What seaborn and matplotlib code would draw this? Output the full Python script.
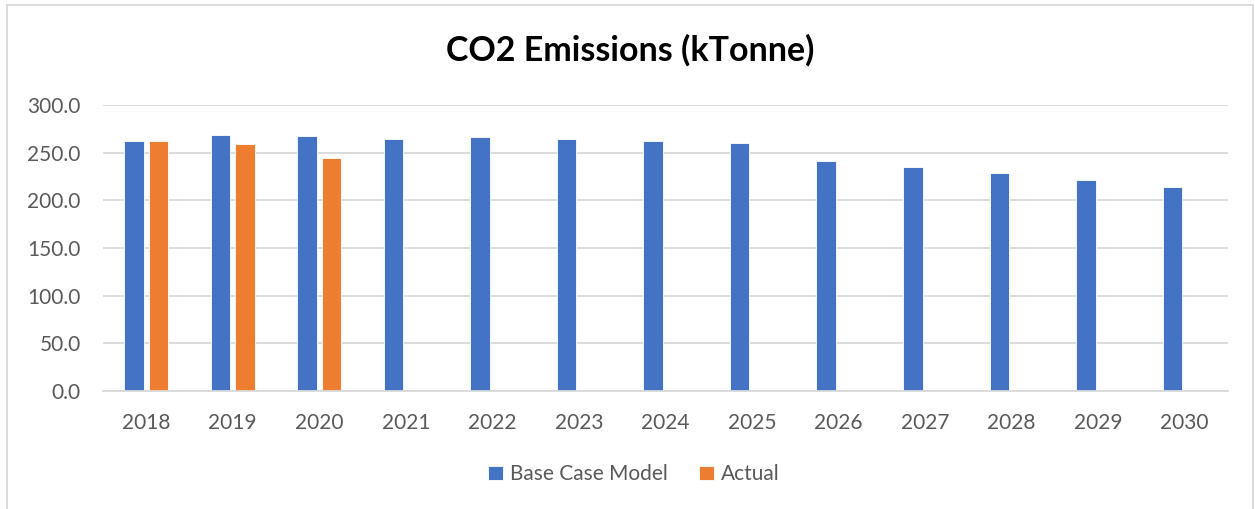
import pandas as pd
import numpy as np
from matplotlib import pyplot as plt
from matplotlib.lines import Line2D
import seaborn as sns

# Chart data
years = ["2018", "2019", "2020", "2021", "2022", "2023", "2024",
         "2025", "2026", "2027", "2028", "2029", "2030"]
base_case = [262.3, 268.2, 266.9, 264.4, 266.1, 263.7, 262.3,
             259.5, 240.7, 234.7, 228.1, 220.8, 214.1]
actual = [262.3, 258.8, 243.8]
series_names = ["Base Case Model", "Actual"]
yticks = [0, 50, 100, 150, 200, 250, 300]

# Long-format frame for seaborn
actual_full = actual + [np.nan] * (len(years) - len(actual))
df = pd.DataFrame({
    "year": years * 2,
    "series": [series_names[0]] * len(years) + [series_names[1]] * len(years),
    "value": base_case + actual_full,
})

sns.set_style("white")
plt.rcParams["font.family"] = ["Lato", "DejaVu Sans"]

fig = plt.figure(figsize=(12.55, 5.09), dpi=100)
ax = fig.add_axes([0.082, 0.232, 0.8965, 0.562])

sns.barplot(data=df, x="year", y="value", hue="series", hue_order=series_names,
            palette=["#4472C4", "#ED7D31"], saturation=1, width=0.57, gap=0.21,
            edgecolor="white", linewidth=0.6, ax=ax, legend=True)

ax.set_ylim(0, 300)
ax.set_yticks(yticks)
ax.set_yticklabels([f"{v:.1f}" for v in yticks])
ax.set_xlim(-0.5, len(years) - 0.5)
ax.set_xlabel("")
ax.set_ylabel("")
ax.yaxis.grid(True, color="#d9d9d9", linewidth=1.3)
ax.set_axisbelow(True)
for side in ["top", "right", "left"]:
    ax.spines[side].set_visible(False)
ax.spines["bottom"].set_color("#d9d9d9")
ax.spines["bottom"].set_linewidth(1.3)
ax.tick_params(axis="both", length=0, labelsize=15, labelcolor="#595959")
ax.tick_params(axis="x", pad=16)
ax.tick_params(axis="y", pad=16)

handles, labels = ax.get_legend_handles_labels()
ax.legend(handles, labels, loc="center", bbox_to_anchor=(0.505, 0.068),
          bbox_transform=fig.transFigure, ncol=2, frameon=False,
          fontsize=15, labelcolor="#595959", handlelength=0.7, handleheight=0.7,
          handletextpad=0.35, columnspacing=1.5)

fig.suptitle("CO2 Emissions (kTonne)", x=0.502, y=0.902, va="center",
             fontsize=24.5, fontweight="bold", color="black")

# Chart border (top, left and right edges visible in the reference)
border = "#d9d9d9"
fig.add_artist(Line2D([0.0056, 0.9984], [0.991, 0.991], transform=fig.transFigure, color=border, lw=1.3))
fig.add_artist(Line2D([0.0056, 0.0056], [0.0, 0.991], transform=fig.transFigure, color=border, lw=1.3))
fig.add_artist(Line2D([0.9984, 0.9984], [0.0, 0.991], transform=fig.transFigure, color=border, lw=1.3))

fig.savefig("out.png", dpi=100)
